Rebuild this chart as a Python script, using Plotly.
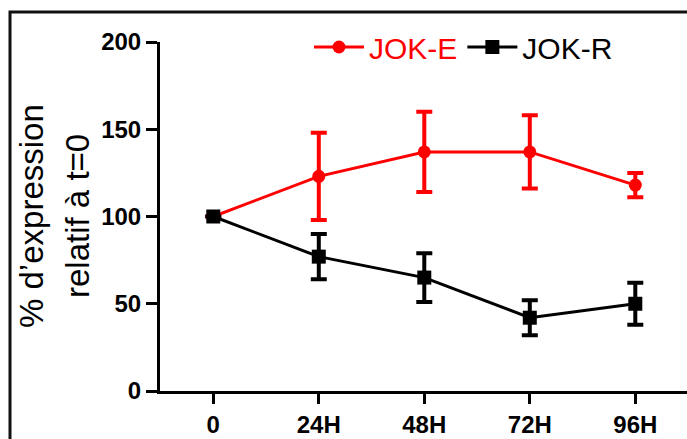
import plotly.graph_objects as go

# Time points and measured expression (% of t=0), mean and error
timepoints = ["0", "24H", "48H", "72H", "96H"]
jok_e = [100, 123, 137, 137, 118]
jok_e_err = [0, 25, 23, 21, 7]
jok_r = [100, 77, 65, 42, 50]
jok_r_err = [0, 13, 14, 10, 12]
y_ticks = [0, 50, 100, 150, 200]

W, H = 687, 439
L, R, T, B = 160, 0, 42, 48
pw, ph = W - L - R, H - T - B


def px_x(x):
    return (x - L) / pw


def px_y(y):
    return (H - B - y) / ph


FONT = "Liberation Sans, Arial, sans-serif"

fig = go.Figure()
fig.add_trace(go.Scatter(
    x=timepoints, y=jok_e, name='<span style="color:#FF0000">JOK-E</span>',
    mode="lines+markers",
    line=dict(color="#FF0000", width=3),
    marker=dict(symbol="circle", size=13, color="#FF0000"),
    error_y=dict(type="data", array=jok_e_err, color="#FF0000", thickness=4, width=8),
    cliponaxis=False,
))
fig.add_trace(go.Scatter(
    x=timepoints, y=jok_r, name="JOK-R",
    mode="lines+markers",
    line=dict(color="#000000", width=3),
    marker=dict(symbol="square", size=14, color="#000000"),
    error_y=dict(type="data", array=jok_r_err, color="#000000", thickness=4, width=8),
    cliponaxis=False,
))

fig.update_layout(
    width=W, height=H,
    margin=dict(l=L, r=R, t=T, b=B, pad=0),
    paper_bgcolor="white", plot_bgcolor="white",
    font=dict(family=FONT, color="black"),
    showlegend=True,
    legend=dict(
        orientation="h", x=px_x(309), y=px_y(47), xanchor="left", yanchor="middle",
        font=dict(family=FONT, size=30, color="black"),
        bgcolor="rgba(0,0,0,0)", itemwidth=50, traceorder="normal",
    ),
    xaxis=dict(
        type="category", range=[-0.505, 4.49],
        showline=True, linecolor="black", linewidth=3,
        ticks="outside", ticklen=10, tickwidth=3, tickcolor="black",
        tickfont=dict(family=FONT, size=24, color="black", weight="bold"),
        showgrid=False, zeroline=False,
    ),
    yaxis=dict(
        range=[0, 200], tickvals=y_ticks,
        showline=True, linecolor="black", linewidth=3,
        ticks="outside", ticklen=11, tickwidth=3, tickcolor="black",
        tickfont=dict(family=FONT, size=24, color="black", weight="bold"),
        showgrid=False, zeroline=False,
    ),
    annotations=[
        dict(text="% d\u2019expression", xref="paper", yref="paper",
             x=px_x(31), y=px_y(216), textangle=-90, showarrow=False,
             xanchor="center", yanchor="middle",
             font=dict(family=FONT, size=33, color="black")),
        dict(text="relatif \u00e0 t=0", xref="paper", yref="paper",
             x=px_x(77), y=px_y(216), textangle=-90, showarrow=False,
             xanchor="center", yanchor="middle",
             font=dict(family=FONT, size=33, color="black")),
    ],
    shapes=[
        dict(type="rect", xref="paper", yref="paper",
             x0=px_x(10), x1=px_x(W + 20), y0=px_y(H + 20), y1=px_y(12),
             line=dict(color="#111111", width=3), layer="below"),
    ],
)

fig.write_html("out.html")
